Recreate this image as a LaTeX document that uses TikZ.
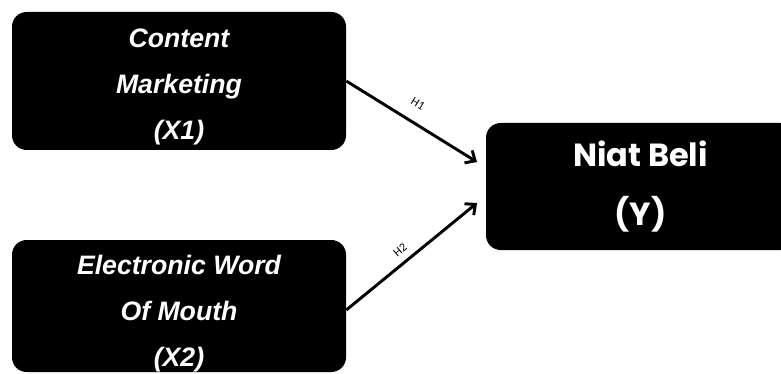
\documentclass[tikz,border=0pt]{standalone}
\usepackage{fontspec}
\setmainfont{Liberation Sans}
\newfontfamily\popfont{Poppins}
\newfontfamily\labfont{Carlito}
\usetikzlibrary{arrows.meta}
\begin{document}
\begin{tikzpicture}[x=0.75pt,y=-0.75pt,
 box/.style={fill=black, rounded corners=11pt, text=white, align=center, inner sep=0pt},
 leftbox/.style={box, minimum width=250.5pt, font=\fontsize{20}{34.5}\selectfont\bfseries\itshape},
 rightbox/.style={box, minimum width=231.75pt, minimum height=95.25pt, font=\popfont\bfseries\fontsize{24}{44}\selectfont},
 conn/.style={line width=2.2pt, -{Straight Barb[length=6pt,width=11pt,line width=2.2pt]}},
 hlabel/.style={font=\labfont\fontsize{9}{9}\selectfont, inner sep=0pt}]
\useasboundingbox (0,0) rectangle (781,374);
\clip (0,0) rectangle (781,374);
\node[leftbox, minimum height=103.5pt] (x1) at (179,81) {\raisebox{-8pt}[0pt][0pt]{\begin{tabular}{@{}c@{}}Content\\Marketing\\(X1)\end{tabular}}};
\node[leftbox, minimum height=99pt] (x2) at (179,306) {\raisebox{-9pt}[0pt][0pt]{\begin{tabular}{@{}c@{}}Electronic Word\\Of Mouth\\(X2)\end{tabular}}};
\node[rightbox] (y) at (640.5,186.5) {Niat Beli\\(Y)};
\coordinate (t1) at (477,162);
\coordinate (t2) at (477,203);
\draw[conn] (x1.east) -- (t1);
\draw[conn] ([yshift=-3pt]x2.east) -- (t2);
\node[hlabel, rotate=-31.6] (h1) at (418,104) {H1};
\node[hlabel, rotate=39.7] (h2) at (400,250) {H2};
\end{tikzpicture}
\end{document}
